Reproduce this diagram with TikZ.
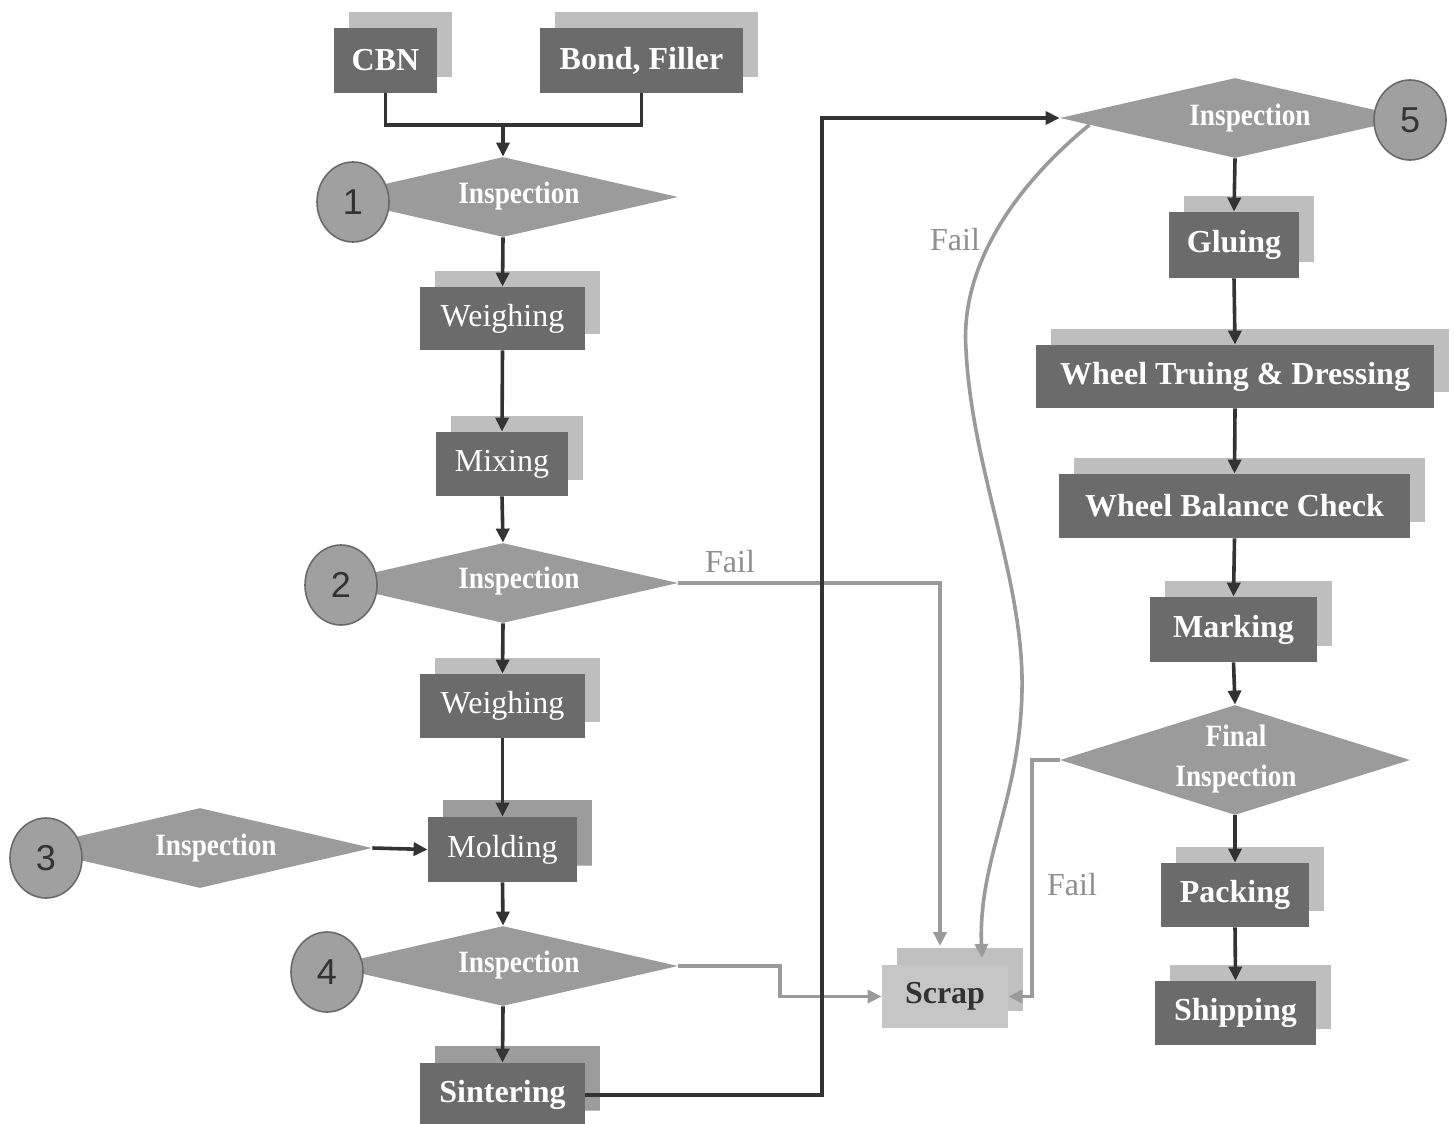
\documentclass[tikz,border=0pt]{standalone}
\usepackage{fontspec}
\setmainfont{Liberation Serif}
\newfontfamily\condfont{Liberation Serif}[FakeStretch=0.88]
\newfontfamily\numfont{Liberation Sans}
\usetikzlibrary{shapes.geometric,arrows.meta,shadows,calc}
\definecolor{boxdk}{HTML}{6B6B6B}
\definecolor{shlt}{HTML}{BEBEBE}
\definecolor{shmd}{HTML}{9C9C9C}
\definecolor{dia}{HTML}{9B9B9B}
\definecolor{circ}{HTML}{A0A0A0}
\definecolor{circline}{HTML}{6A6A6A}
\definecolor{linedk}{HTML}{333333}
\definecolor{linegy}{HTML}{9A9A9A}
\definecolor{scrapc}{HTML}{C6C6C6}
\definecolor{scrapsh}{HTML}{C0C0C0}
\definecolor{failc}{HTML}{8E8E8E}
\begin{document}
\begin{tikzpicture}[x=0.5pt,y=-0.5pt,
  procbox/.style={rectangle, fill=boxdk, text=white, inner sep=0pt,
    font=\fontsize{16}{18}\selectfont\bfseries,
    general shadow={fill=shlt, shadow xshift=7.3pt, shadow yshift=7.8pt}},
  procreg/.style={procbox, font=\fontsize{16}{18}\selectfont},
  midshadow/.style={general shadow={fill=shmd, shadow xshift=7.3pt, shadow yshift=8.3pt}},
  scrapbox/.style={rectangle, fill=scrapc, text=linedk, inner sep=0pt,
    font=\fontsize{16}{18}\selectfont\bfseries,
    general shadow={fill=scrapsh, shadow xshift=7.3pt, shadow yshift=8.5pt}},
  insp/.style={diamond, fill=dia, inner sep=0pt, aspect=4.4,
    minimum width=175pt, minimum height=40pt},
  dtext/.style={text=white, inner sep=0pt, font=\condfont\fontsize{15.5}{20}\selectfont\bfseries, align=center},
  numc/.style={ellipse, fill=circ, draw=circline, line width=0.8pt,
    minimum width=36pt, minimum height=40pt, inner sep=0pt,
    text=black!80, font=\numfont\fontsize{18}{20}\selectfont},
  dk/.style={draw=linedk, line width=1.8pt},
  gy/.style={draw=linegy, line width=1.8pt},
  arr/.style={-{Triangle[length=7pt,width=6.5pt]}},
  failtxt/.style={text=failc, inner sep=0pt, font=\fontsize{16}{18}\selectfont}
]
\useasboundingbox (0,0) rectangle (1454,1123);
\fill[white] (0,0) rectangle (1454,1123);

% ---- boxes ----
\node[procbox, minimum width=51.5pt, minimum height=32.5pt] (cbn) at (385.5,60.5) {CBN};
\node[procbox, minimum width=101.5pt, minimum height=32.5pt] (bond) at (641.5,60.5) {Bond, Filler};
\node[procreg, minimum width=82.5pt, minimum height=31.5pt] (w1) at (502.5,318.5) {Weighing};
\node[procreg, minimum width=66pt, minimum height=32pt] (mix) at (502,464) {Mixing};
\node[procreg, minimum width=82.5pt, minimum height=32pt] (w2) at (502.5,706) {Weighing};
\node[procreg, midshadow, minimum width=74.5pt, minimum height=32.5pt] (mold) at (502.5,849.5) {Molding};
\node[procbox, midshadow, minimum width=82.5pt, minimum height=32pt] (sint) at (502.5,1095) {Sintering};
\node[scrapbox, minimum width=63pt, minimum height=31.5pt] (scrap) at (945,996.5) {Scrap};
\node[procbox, minimum width=65pt, minimum height=33pt] (glu) at (1234,245) {Gluing};
\node[procbox, minimum width=199pt, minimum height=31.5pt] (wtd) at (1235,376.5) {Wheel Truing \& Dressing};
\node[procbox, minimum width=175.5pt, minimum height=32pt] (wbc) at (1234.5,506) {Wheel Balance Check};
\node[procbox, minimum width=83.5pt, minimum height=32.5pt] (mark) at (1233.5,629.5) {Marking};
\node[procbox, minimum width=74pt, minimum height=32pt] (pack) at (1235,895) {Packing};
\node[procbox, minimum width=80.5pt, minimum height=32pt] (ship) at (1235.5,1013) {Shipping};

% ---- decision diamonds ----
\node[insp] (d1) at (503,197) {};
\node[insp] (d2) at (503,583) {};
\node[insp, minimum width=172pt] (d3) at (200,848) {};
\node[insp] (d4) at (503,966) {};
\node[insp] (d5) at (1235,118) {};
\node[insp, minimum height=55pt] (fin) at (1235,760) {};
\node[dtext] (d1t) at (519,196) {Inspection};
\node[dtext] (d2t) at (519,581) {Inspection};
\node[dtext] (d3t) at (216,848) {Inspection};
\node[dtext] (d4t) at (519,965) {Inspection};
\node[dtext] (d5t) at (1250,118) {Inspection};
\node[dtext] (fint) at (1236,759) {Final\\Inspection};

% ---- numbered circles ----
\node[numc] (c1) at (353,202) {1};
\node[numc] (c2) at (341,585) {2};
\node[numc] (c3) at (46,858) {3};
\node[numc] (c4) at (327,972) {4};
\node[numc] (c5) at (1410,120) {5};

% ---- helper coordinates ----
\coordinate (j1) at (503,125);
\coordinate (turn) at (822,118);
\coordinate (s1) at (940,946);
\coordinate (k1) at (780,966);
\coordinate (k2) at (1032,760);
\coordinate (cstart) at ($(d5.west)!0.17!(d5.south)$);
\coordinate (cend) at (982,958);

% ---- grey fail connectors ----
\draw[gy, arr] (d2.east) -| (s1);
\draw[gy, arr] (d4.east) -- (k1) |- (scrap.west);
\draw[gy, arr] (fin.west) -- (k2) |- (scrap.east);
\draw[gy, arr] (cstart) .. controls (1010,190) and (960,270) .. (966,350)
  .. controls (972,470) and (1024,580) .. (1022,690)
  .. controls (1020,800) and (978,860) .. (cend);

% ---- dark connectors ----
\draw[dk] (cbn.south) |- (j1) -| (bond.south);
\draw[dk, arr] (j1) -- (d1.north);
\draw[dk, arr] (d1.south) -- (w1.north);
\draw[dk, arr] (w1.south) -- (mix.north);
\draw[dk, arr] (mix.south) -- (d2.north);
\draw[dk, arr] (d2.south) -- (w2.north);
\draw[dk, arr] (w2.south) -- (mold.north);
\draw[dk, arr] (d3.east) -- (mold.west);
\draw[dk, arr] (mold.south) -- (d4.north);
\draw[dk, arr] (d4.south) -- (sint.north);
\draw[dk, arr] (sint.east) -| (turn) -- (d5.west);
\draw[dk, arr] (d5.south) -- (glu.north);
\draw[dk, arr] (glu.south) -- (wtd.north);
\draw[dk, arr] (wtd.south) -- (wbc.north);
\draw[dk, arr] (wbc.south) -- (mark.north);
\draw[dk, arr] (mark.south) -- (fin.north);
\draw[dk, arr] (fin.south) -- (pack.north);
\draw[dk, arr] (pack.south) -- (ship.north);

% ---- fail labels ----
\node[failtxt] (f1) at (730,562) {Fail};
\node[failtxt] (f2) at (955,240) {Fail};
\node[failtxt] (f3) at (1072,885) {Fail};
\end{tikzpicture}
\end{document}
